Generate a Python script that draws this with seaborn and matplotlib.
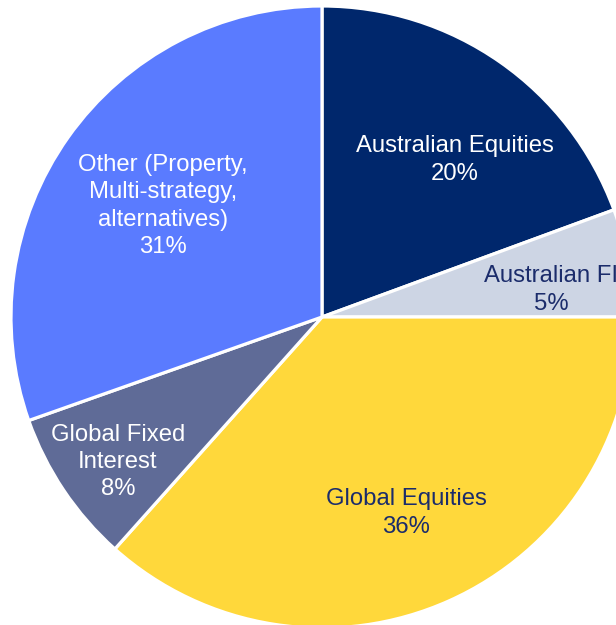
import matplotlib
matplotlib.use("Agg")
import matplotlib.pyplot as plt
import seaborn as sns

# asset allocation (wedge sizes, labels as printed)
labels = ["Australian Equities", "Australian FI", "Global Equities",
          "Global Fixed\nInterest", "Other (Property,\nMulti-strategy,\nalternatives)"]
shares = [19.4, 5.6, 36.6, 8.0, 30.4]
pct_labels = ["20%", "5%", "36%", "8%", "31%"]
colours = ["#00276C", "#CDD5E4", "#FFD83B", "#5F6B97", "#5A7BFF"]
text_colours = ["white", "#1B2C6B", "#1B2C6B", "white", "white"]
# label anchor points (pixels from top-left)
label_x = [455, 551, 406, 118, 163]
label_y = [160, 290, 513, 462, 206]

sns.set_theme(style="white")
plt.rcParams["font.family"] = ["Liberation Sans", "DejaVu Sans"]

W, H = 616, 625
fig = plt.figure(figsize=(W / 100, H / 100), dpi=100)
ax = fig.add_axes([0, 0, 1, 1])

ax.pie(shares, colors=colours, startangle=90, counterclock=False,
       center=(322, H - 317), radius=311, frame=True,
       wedgeprops=dict(edgecolor="white", linewidth=2.3))
ax.set_xlim(0, W)
ax.set_ylim(0, H)
ax.set_aspect("equal")
ax.axis("off")

# the Australian FI label runs off the right edge, as in the source image
for lab, p, tc, x, y in zip(labels, pct_labels, text_colours, label_x, label_y):
    ax.text(x, H - y, f"{lab}\n{p}", ha="center", va="center", color=tc,
            fontsize=17.2, linespacing=1.32, clip_on=True)

fig.savefig("out.png", dpi=100)
